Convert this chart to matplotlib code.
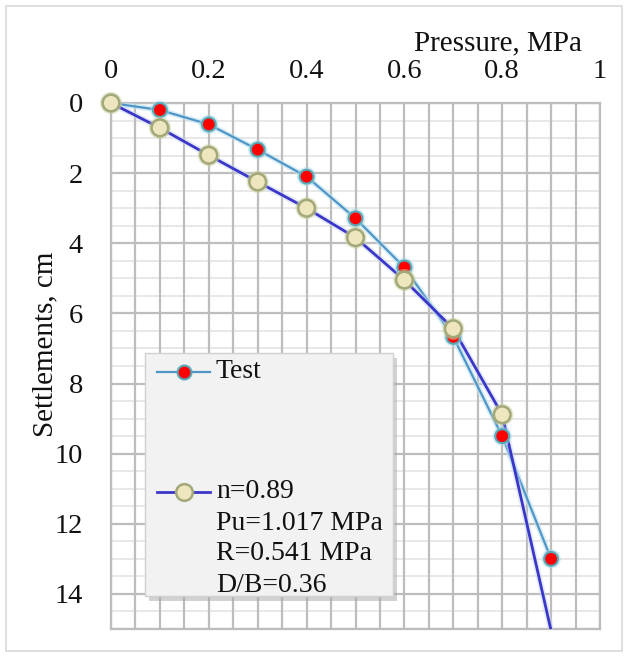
import matplotlib
matplotlib.use("Agg")
import matplotlib.pyplot as plt
from matplotlib.lines import Line2D
from matplotlib.patches import Rectangle
import matplotlib.patheffects as pe
import numpy as np

# ---------------- data ----------------
pressure = [0.0, 0.1, 0.2, 0.3, 0.4, 0.5, 0.6, 0.7, 0.8, 0.9]
test_settlement = [0.0, 0.20, 0.61, 1.33, 2.10, 3.29, 4.69, 6.67, 9.50, 13.0]
model_settlement = [0.0, 0.71, 1.49, 2.25, 3.00, 3.84, 5.05, 6.44, 8.89, 15.05]
x_ticks = [0, 0.2, 0.4, 0.6, 0.8, 1.0]
x_tick_labels = ["0", "0.2", "0.4", "0.6", "0.8", "1"]
y_ticks = [0, 2, 4, 6, 8, 10, 12, 14]
y_tick_labels = ["0", "2", "4", "6", "8", "10", "12", "14"]
test_label = "Test"
model_label_lines = ["n=0.89", "Pu=1.017 MPa", "R=0.541 MPa", "D/B=0.36"]

# ---------------- style ----------------
plt.rcParams['font.family'] = ['Liberation Serif', 'DejaVu Serif']
W, H = 628, 657
fig = plt.figure(figsize=(W / 100, H / 100), dpi=100)

def fx(px):
    return px / W

def fy(py):
    return 1 - py / H

# figure border
fig.patches.append(Rectangle((fx(6), fy(651)), fx(622) - fx(6), fy(6) - fy(651),
                             transform=fig.transFigure, fill=False,
                             edgecolor="#D9D9D9", linewidth=1.2))

ax_l, ax_r, ax_t, ax_b = 111, 600, 103, 629
ax = fig.add_axes([fx(ax_l), fy(ax_b), fx(ax_r) - fx(ax_l), fy(ax_t) - fy(ax_b)])

grid_col = "#BDBDBD"
minor_col = "#E4E4E4"
ax.set_xlim(0, 1)
ax.set_ylim(15, 0)

# grid lines
for xv in np.arange(0, 1.0001, 0.05):
    ax.axvline(xv, color=grid_col, lw=1.6, zorder=1)
for yv in np.arange(0, 15.001, 0.5):
    if abs(yv % 2) < 1e-9:
        ax.axhline(yv, color=grid_col, lw=1.6, zorder=1.1)
    else:
        ax.axhline(yv, color=minor_col, lw=1.2, zorder=0.9)
ax.axhline(15, color=grid_col, lw=1.6, zorder=1.1)

for s in ax.spines.values():
    s.set_color(grid_col)
    s.set_linewidth(1.6)

ax.xaxis.tick_top()
ax.set_xticks(x_ticks)
ax.set_xticklabels(x_tick_labels)
ax.set_yticks(y_ticks)
ax.set_yticklabels(y_tick_labels)
ax.tick_params(axis='x', length=0, pad=14, labelsize=20.5, colors="#111111")
ax.tick_params(axis='y', length=0, pad=20, labelsize=20.5, colors="#111111")

ax.xaxis.set_label_position('top')
ax.set_xlabel("Pressure, MPa", fontsize=21, color="#111111")
ax.xaxis.label.set_va('center')
ax.xaxis.set_label_coords((498 - ax_l) / (ax_r - ax_l), 1 + (ax_t - 43) / (ax_b - ax_t))
ax.set_ylabel("Settlements, cm", fontsize=21, color="#111111")
ax.yaxis.label.set_va('center')
ax.yaxis.set_label_coords((45 - ax_l) / (ax_r - ax_l), 1 - (344 - ax_t) / (ax_b - ax_t))

test_col = "#4F95C8"
model_col = "#3B35C9"
red = "#FF0000"
red_edge = "#58A8B8"
beige = "#EDE6BF"
beige_edge = "#A3A878"

glow_t = [pe.Stroke(linewidth=4, foreground="#BFE3F0", alpha=0.6), pe.Normal()]
glow_m = [pe.Stroke(linewidth=4.5, foreground="#C8D8F0", alpha=0.5), pe.Normal()]
glow_mk_t = [pe.Stroke(linewidth=4, foreground="#A8DCE6", alpha=0.5), pe.Normal()]
glow_mk_m = [pe.Stroke(linewidth=4, foreground="#C9D2A0", alpha=0.5), pe.Normal()]

ylim_max = 15
# lines (clipped to the plot area)
ax.plot(pressure, test_settlement, color=test_col, lw=1.6, zorder=3, path_effects=glow_t)
ax.plot(pressure, model_settlement, color=model_col, lw=2.0, zorder=3.5, path_effects=glow_m)
# markers (not clipped so the origin marker shows whole), only points inside the y range
tp = [(p, s) for p, s in zip(pressure, test_settlement) if s <= ylim_max]
mp = [(p, s) for p, s in zip(pressure, model_settlement) if s <= ylim_max]
ax.plot([a for a, _ in tp], [b for _, b in tp], ls='none', marker='o', ms=10,
        mfc=red, mec=red_edge, mew=1.5, zorder=4, clip_on=False, path_effects=glow_mk_t)
ax.plot([a for a, _ in mp], [b for _, b in mp], ls='none', marker='o', ms=12,
        mfc=beige, mec=beige_edge, mew=1.8, zorder=5, clip_on=False, path_effects=glow_mk_m)

# ---------------- legend (Excel-style, manual layout) ----------------
lg_l, lg_r, lg_t, lg_b = 145, 393, 353, 596
fig.patches.append(Rectangle((fx(lg_l + 4), fy(lg_b + 5)), fx(lg_r) - fx(lg_l), fy(lg_t) - fy(lg_b),
                             transform=fig.transFigure, facecolor="#A6A6A6", edgecolor="none",
                             alpha=0.5, zorder=5))
leg_box = Rectangle((fx(lg_l), fy(lg_b)), fx(lg_r) - fx(lg_l), fy(lg_t) - fy(lg_b),
                    transform=fig.transFigure, facecolor="#F2F2F2", edgecolor="#D0D0D0",
                    linewidth=1.0, zorder=6)
fig.patches.append(leg_box)

def legend_entry(yc, color, lw, mfc, mec, ms, mew):
    fig.add_artist(Line2D([fx(157), fx(210)], [fy(yc), fy(yc)], transform=fig.transFigure,
                          color=color, lw=lw, zorder=7))
    fig.add_artist(Line2D([fx(184)], [fy(yc)], transform=fig.transFigure, marker='o',
                          ms=ms, mfc=mfc, mec=mec, mew=mew, zorder=8))

legend_entry(372, test_col, 1.6, red, red_edge, 10, 1.5)
fig.text(fx(216), fy(372), test_label, fontsize=20, va='center', ha='left', zorder=9, color="#111111")
legend_entry(492, model_col, 2.0, beige, beige_edge, 12, 1.8)
for i, line in enumerate(model_label_lines):
    fig.text(fx(216), fy(492 + 31 * i), line, fontsize=20, va='center', ha='left', zorder=9,
             color="#111111")

fig.savefig("out.png", dpi=100, facecolor="white")
